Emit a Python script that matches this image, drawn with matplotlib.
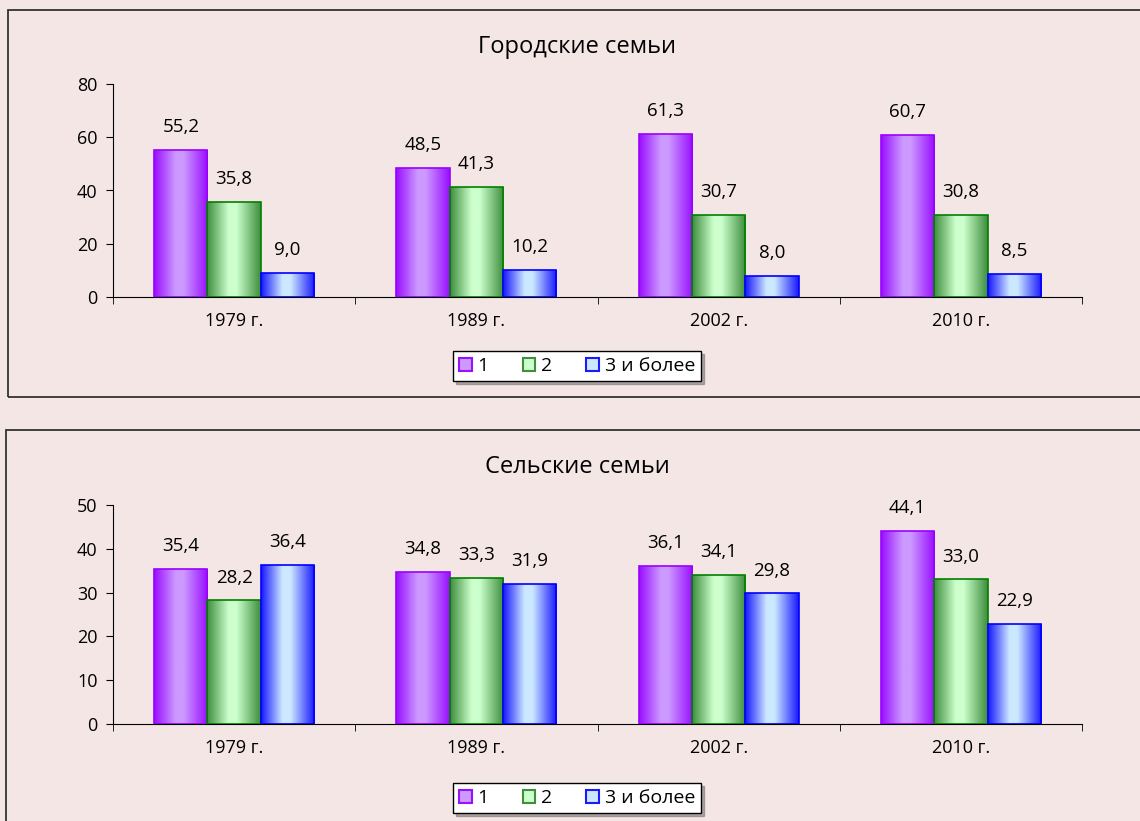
import numpy as np
import matplotlib.pyplot as plt
from matplotlib.patches import Rectangle
from matplotlib.colors import LinearSegmentedColormap

plt.rcParams['font.family'] = ['Open Sans', 'DejaVu Sans']

years = ['1979 г.', '1989 г.', '2002 г.', '2010 г.']
series_names = ['1', '2', '3 и более']

urban_1 = [55.2, 48.5, 61.3, 60.7]
urban_2 = [35.8, 41.3, 30.7, 30.8]
urban_3 = [9.0, 10.2, 8.0, 8.5]

rural_1 = [35.4, 34.8, 36.1, 44.1]
rural_2 = [28.2, 33.3, 34.1, 33.0]
rural_3 = [36.4, 31.9, 29.8, 22.9]

bg = '#f5e6e6'
# (dark edge, light centre, outline)
styles = [('#9a10ff', '#cc99ff', '#9900ff'),
          ('#3f8f3f', '#ccffcc', '#008000'),
          ('#1a1aff', '#cce8ff', '#0000ff')]


def gradient_cmap(dark, light):
    return LinearSegmentedColormap.from_list(
        'g', [(0, dark), (0.4, light), (0.55, light), (1, dark)])


def draw_panel(fig, ax, title, title_y, legend_y, data, yticks):
    ax.set_facecolor(bg)
    x = np.arange(len(years))
    w = 0.22
    grad = np.linspace(0, 1, 64).reshape(1, -1)
    for i, vals in enumerate(data):
        dark, light, edge = styles[i]
        cmap = gradient_cmap(dark, light)
        pos = x + (i - 1) * w
        bars = ax.bar(pos, vals, w, facecolor='none', edgecolor=edge,
                      linewidth=1.2, zorder=3)
        for b, v in zip(bars, vals):
            x0 = b.get_x()
            im = ax.imshow(grad, cmap=cmap, aspect='auto',
                           extent=(x0, x0 + w, 0, v), zorder=2)
            im.set_clip_path(b)
            ax.annotate(f'{v:.1f}'.replace('.', ','), (x0 + w / 2, v),
                        xytext=(0, 10), textcoords='offset points',
                        ha='center', va='bottom', fontsize=13.5)
    ax.set_xlim(-0.5, len(years) - 0.5)
    ax.set_ylim(0, yticks[-1])
    ax.set_yticks(yticks)
    ax.set_xticks(x)
    ax.set_xticklabels(years, fontsize=13)
    ax.set_xticks(np.arange(len(years) + 1) - 0.5, minor=True)
    ax.tick_params(axis='x', which='major', length=0, pad=11)
    ax.tick_params(axis='x', which='minor', length=5, direction='out')
    ax.tick_params(axis='y', length=5, direction='out', labelsize=13, pad=6)
    for s in ['top', 'right']:
        ax.spines[s].set_visible(False)
    fig.text(577 / 1140, title_y, title, fontsize=17, ha='center',
             va='center')

    handles = [Rectangle((0, 0), 1, 1, facecolor=styles[i][1],
                         edgecolor=styles[i][0], linewidth=1.5)
               for i in range(3)]
    leg = ax.legend(handles, series_names, loc='center',
                    bbox_to_anchor=(577 / 1140, legend_y),
                    bbox_transform=fig.transFigure, ncol=3, frameon=True,
                    fancybox=False, shadow={'color': '#666666'}, fontsize=14,
                    handlelength=0.65, handleheight=0.65, handletextpad=0.3,
                    columnspacing=1.75, borderpad=0.3, edgecolor='black',
                    borderaxespad=0)
    leg.get_frame().set_linewidth(1.0)


fig = plt.figure(figsize=(11.4, 8.21), dpi=100, facecolor=bg)

# panel frames
fig.patches.append(Rectangle((8 / 1140, 1 - 397 / 821), 1.2, 387 / 821,
                             transform=fig.transFigure, facecolor='none',
                             edgecolor='#333333', linewidth=1.3))
fig.patches.append(Rectangle((6 / 1140, -0.1), 1.2, 1 - 430 / 821 + 0.1,
                             transform=fig.transFigure, facecolor='none',
                             edgecolor='#333333', linewidth=1.3))

ax1 = fig.add_axes([113 / 1140, 1 - 297 / 821, 969 / 1140, 213 / 821])
draw_panel(fig, ax1, 'Городские семьи', 1 - 47 / 821, 1 - 366 / 821,
           [urban_1, urban_2, urban_3], [0, 20, 40, 60, 80])

ax2 = fig.add_axes([113 / 1140, 1 - 724 / 821, 969 / 1140, 219 / 821])
draw_panel(fig, ax2, 'Сельские семьи', 1 - 467 / 821, 1 - 798 / 821,
           [rural_1, rural_2, rural_3], [0, 10, 20, 30, 40, 50])

fig.savefig('out.png', dpi=100, facecolor=bg)
